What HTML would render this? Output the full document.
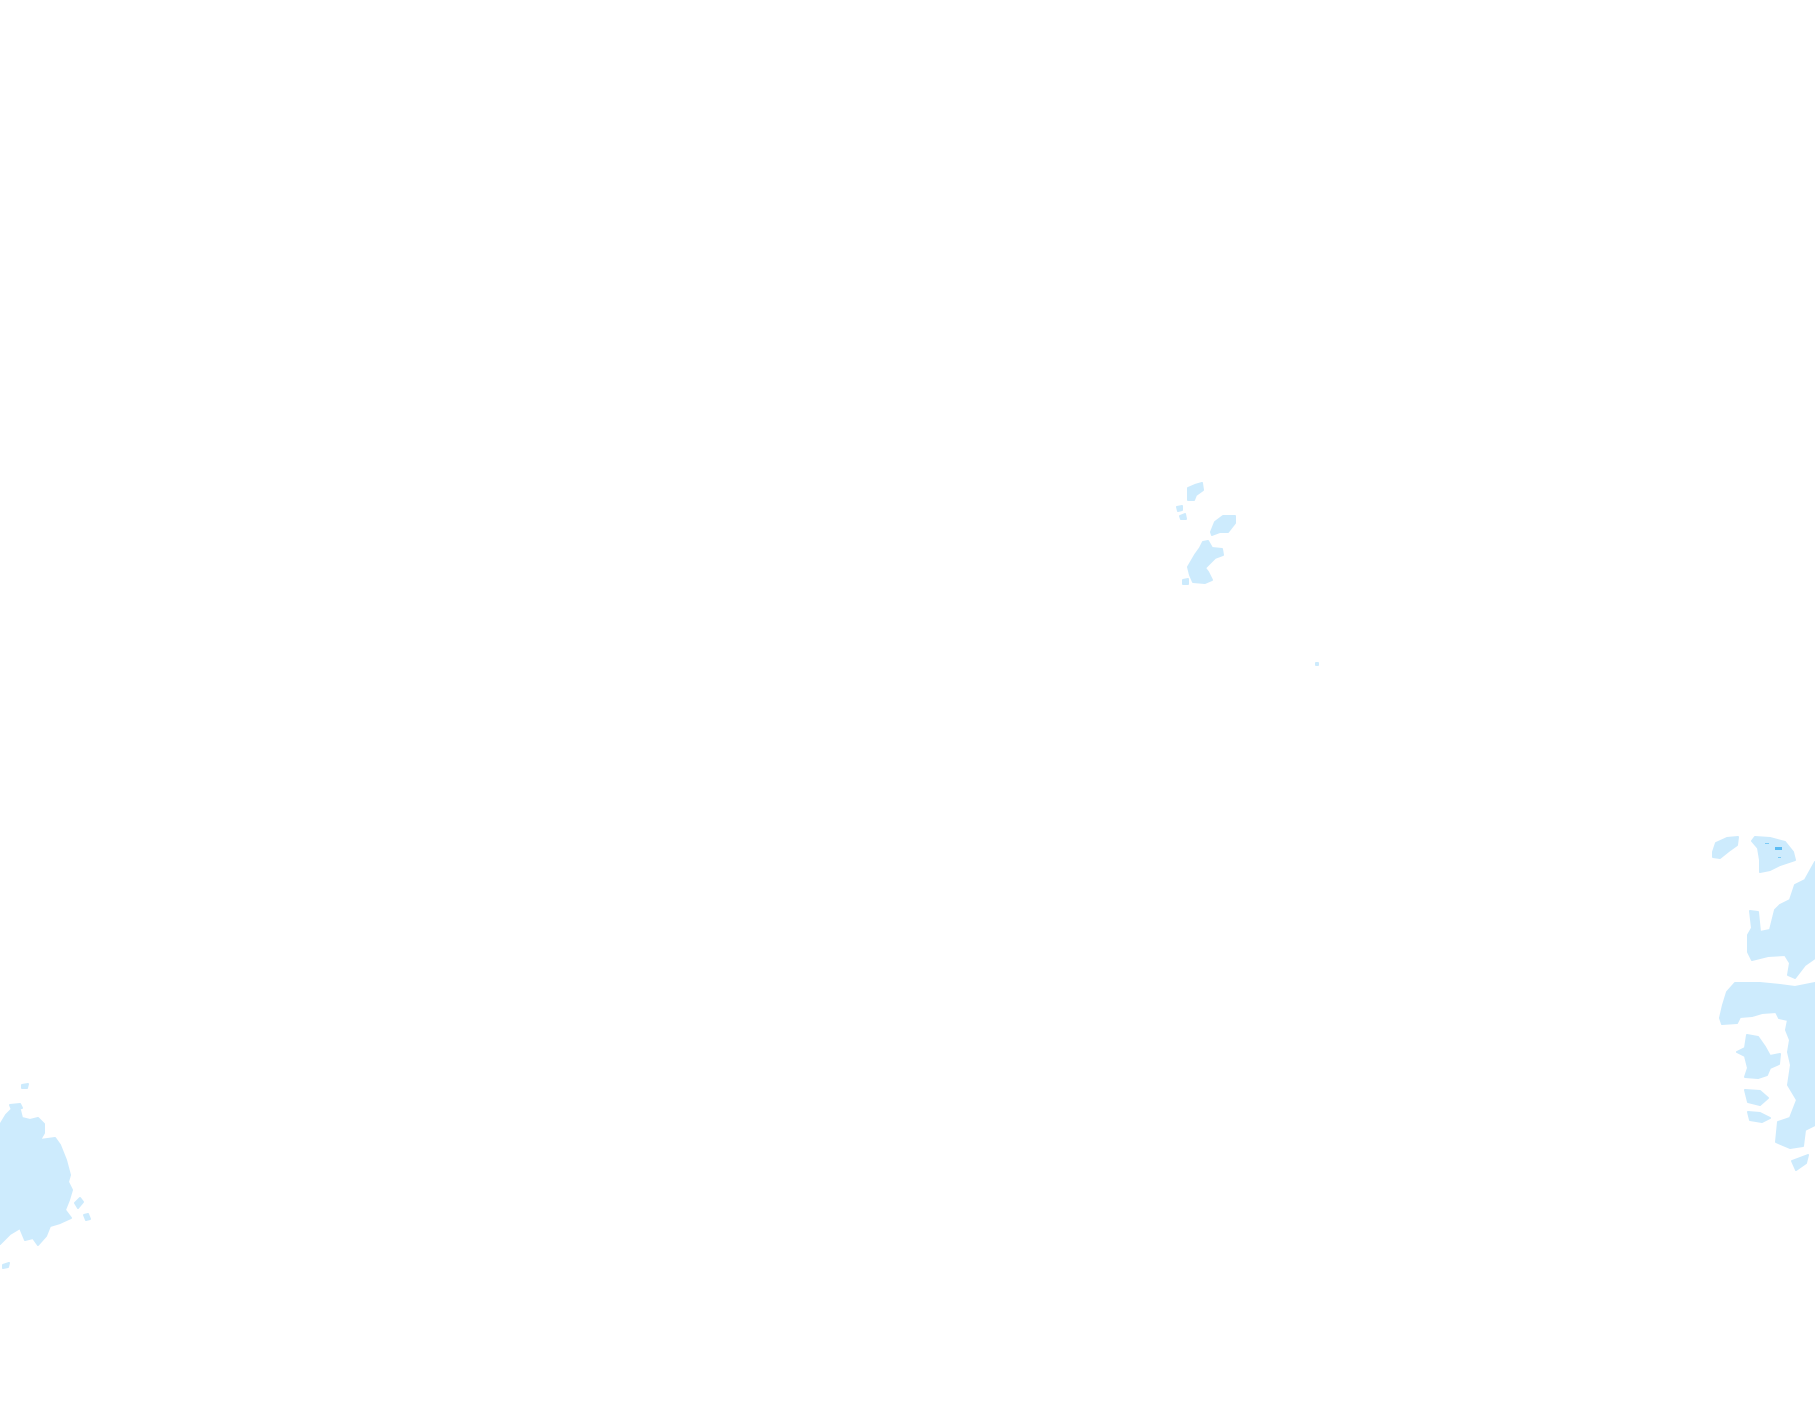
<!DOCTYPE html>
<html><head><meta charset="utf-8"><style>html,body{margin:0;padding:0;background:#fff;width:1815px;height:1424px;overflow:hidden}</style></head>
<body>
<svg width="1815" height="1424" viewBox="0 0 1815 1424" xmlns="http://www.w3.org/2000/svg">
<g fill="#cdebfd" stroke="#cdebfd" stroke-width="2" stroke-linejoin="round">
<!-- right landmass -->
<polygon points="1713,852 1716,843 1727,838 1738,837 1737,845 1730,850 1720,858 1713,857"/>
<polygon points="1752,841 1755,837 1770,838 1785,842 1793,852 1795,860 1780,865 1770,870 1760,872 1760,860 1758,848"/>
<polygon points="1815,862 1805,880 1795,885 1790,900 1780,905 1775,910 1770,930 1760,932 1758,912 1750,911 1752,928 1748,935 1748,952 1752,960 1768,956 1785,955 1790,963 1788,975 1795,978 1805,965 1815,958"/>
<polygon points="1815,983 1795,987 1780,985 1760,983 1735,983 1727,992 1723,1005 1720,1018 1722,1024 1737,1023 1740,1017 1752,1016 1762,1013 1776,1012 1779,1018 1788,1020 1786,1030 1790,1040 1788,1052 1791,1065 1788,1085 1797,1100 1790,1118 1778,1122 1776,1142 1790,1148 1803,1146 1805,1130 1815,1125"/>
<polygon points="1745,1048 1747,1035 1758,1037 1765,1047 1770,1056 1780,1054 1779,1064 1770,1068 1767,1075 1758,1078 1745,1077 1748,1068 1745,1056 1737,1052"/>
<polygon points="1745,1090 1760,1091 1768,1098 1760,1105 1748,1102"/>
<polygon points="1748,1112 1760,1113 1770,1118 1762,1122 1750,1120"/>
<polygon points="1792,1161 1808,1155 1806,1163 1796,1170"/>
<!-- left landmass -->
<polygon points="0,1125 6,1115 12,1109 20,1110 22,1118 30,1120 38,1118 44,1124 44,1133 40,1140 55,1138 60,1145 66,1160 70,1175 68,1182 72,1190 69,1200 65,1210 71,1218 60,1223 50,1226 46,1236 38,1245 33,1238 25,1240 20,1228 10,1234 0,1244"/>
<polygon points="75,1203 80,1198 83,1202 78,1208"/>
<polygon points="22,1085 28,1084 27,1088 22,1088"/>
<polygon points="10,1105 20,1104 22,1108 12,1110"/>
<polygon points="3,1265 9,1263 8,1267 3,1268"/>
<polygon points="84,1215 88,1214 90,1219 86,1220"/>
<!-- middle islands -->
<polygon points="1188,488 1195,485 1202,483 1203,490 1196,495 1194,500 1188,500"/>
<polygon points="1177,507 1182,506 1182,510 1178,511"/>
<polygon points="1180,516 1185,514 1186,519 1181,519"/>
<polygon points="1211,532 1215,522 1223,516 1235,516 1235,523 1228,532 1220,532 1212,535"/>
<polygon points="1188,567 1195,555 1200,548 1203,542 1208,541 1212,548 1222,549 1223,555 1215,558 1210,563 1205,568 1208,572 1212,580 1205,583 1193,582 1190,575"/>
<polygon points="1183,580 1188,579 1188,584 1183,584"/>
<polygon points="1316,663 1318,663 1318,665 1316,665"/>
</g>
<rect x="1775" y="847" width="7" height="3" fill="#5bbcf3"/>
<rect x="1765" y="843" width="4" height="1" fill="#7ccaf5"/>
<rect x="1778" y="857" width="3" height="1" fill="#7ccaf5"/>
</svg>
</body></html>
